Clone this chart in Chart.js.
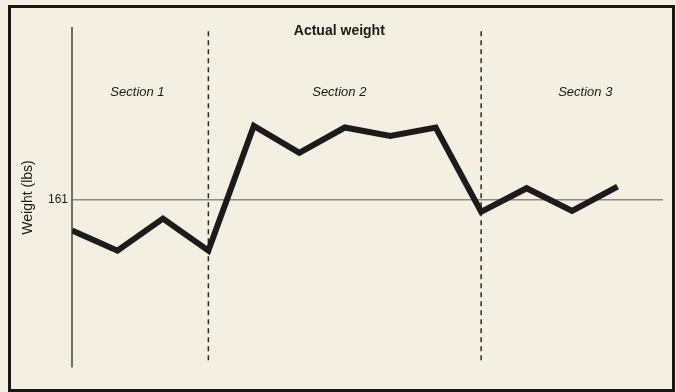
<!DOCTYPE html>
<html>
<head>
<meta charset="utf-8">
<script src="https://cdn.jsdelivr.net/npm/chart.js@4"></script>
<style>
  html, body { margin: 0; padding: 0; background: #f3efe2; }
  #wrap { position: relative; width: 676px; height: 392px; overflow: hidden; }
  #frame {
    position: absolute; left: 8px; top: 5px; width: 661px; height: 381px;
    border: 3px solid #171715; pointer-events: none;
  }
  canvas { position: absolute; left: 0; top: 0; }
</style>
</head>
<body>
<div id="wrap">
  <canvas id="weightChart" width="676" height="392"></canvas>
  <div id="frame"></div>
</div>
<script>
// readings, one per week
const weights = [159.2, 158.0, 159.9, 158.0, 165.4, 163.8, 165.3, 164.8, 165.3, 160.3, 161.7, 160.35, 161.8];
const yTicks = [161];
const sectionBreaks = [3, 9];
const sectionNames = ["Section 1", "Section 2", "Section 3"];
const sectionLabelX = [1.44, 5.88, 11.29];

document.addEventListener("DOMContentLoaded", function () {
  const ink = "#1b1b19";

  const weightPoints = weights.map((w, i) => ({ x: i, y: w }));

  const breakSets = sectionBreaks.map((b) => ({
    data: [{ x: b, y: 171 }, { x: b, y: 151.3 }],
    borderColor: "#2a2a28",
    borderWidth: 1.5,
    borderDash: [5, 4],
    pointRadius: 0,
  }));

  // section captions and the chart heading, placed through the scales
  const captions = {
    id: "captions",
    afterDatasetsDraw(chart) {
      const { ctx, scales } = chart;
      const xs = scales.x;
      const ys = scales.y;
      ctx.save();
      ctx.fillStyle = ink;
      ctx.textAlign = "center";
      ctx.textBaseline = "middle";
      ctx.font = "italic 13px 'Liberation Sans', Arial, sans-serif";
      sectionNames.forEach((name, i) => {
        ctx.fillText(name, xs.getPixelForValue(sectionLabelX[i]), ys.getPixelForValue(167.4));
      });
      ctx.font = "bold 14px 'Liberation Sans', Arial, sans-serif";
      ctx.fillText("Actual weight", xs.getPixelForValue(5.88), ys.getPixelForValue(171.0));
      ctx.restore();
    },
  };

  new Chart(document.getElementById("weightChart").getContext("2d"), {
    type: "line",
    data: {
      datasets: [
        {
          label: "Actual weight",
          data: weightPoints,
          borderColor: ink,
          borderWidth: 6,
          borderJoinStyle: "miter",
          borderCapStyle: "butt",
          pointRadius: 0,
          tension: 0,
        },
        ...breakSets,
      ],
    },
    options: {
      responsive: false,
      animation: false,
      layout: { padding: { left: 0, right: 13, top: 28, bottom: 25 } },
      scales: {
        x: {
          type: "linear",
          min: 0,
          max: 13,
          display: false,
        },
        y: {
          min: 151.1,
          max: 171.2,
          afterBuildTicks: (axis) => {
            axis.ticks = yTicks.map((v) => ({ value: v }));
          },
          afterFit: (axis) => {
            axis.width = 72;
          },
          grid: {
            drawTicks: false,
            color: "#8b8a84",
            lineWidth: 1.5,
          },
          border: {
            display: true,
            color: "#6f6e69",
            width: 2,
          },
          ticks: {
            padding: 4,
            color: ink,
            font: { family: "'Liberation Sans', Arial, sans-serif", size: 12 },
          },
          title: {
            display: true,
            text: "Weight (lbs)",
            color: ink,
            padding: { top: 20, bottom: 0 },
            font: { family: "'Liberation Sans', Arial, sans-serif", size: 14 },
          },
        },
      },
      plugins: {
        legend: { display: false },
        tooltip: { enabled: false },
      },
    },
    plugins: [captions],
  });
});
</script>
</body>
</html>
